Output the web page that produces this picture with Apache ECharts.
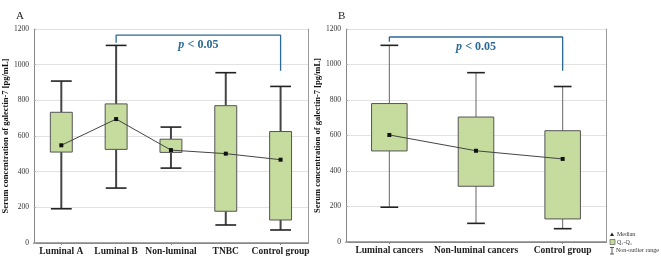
<!DOCTYPE html>
<html>
<head>
<meta charset="utf-8">
<script src="https://cdn.jsdelivr.net/npm/echarts@6/dist/echarts.min.js"></script>
<style>
  html, body { margin: 0; padding: 0; background: #fff; }
  #chart { width: 661px; height: 257px; }
</style>
</head>
<body>
<div id="chart"></div>
<script>
// panel A: subtypes
var catsA = ["Luminal A", "Luminal B", "Non-luminal", "TNBC", "Control group"];
var minA = [192, 308, 420, 101, 73];
var q1A = [510, 525, 508, 178, 129];
var medA = [548, 695, 521, 501, 467];
var q3A = [733, 780, 582, 770, 625];
var maxA = [908, 1108, 650, 955, 878];

// panel B: luminal vs non-luminal
var catsB = ["Luminal cancers", "Non-luminal cancers", "Control group"];
var minB = [196, 105, 75];
var q1B = [513, 314, 130];
var medB = [603, 514, 468];
var q3B = [780, 704, 627];
var maxB = [1108, 954, 876];

// significance brackets [category, value]
var bracketA = [["Luminal B", 1123], ["Luminal B", 1166], ["Control group", 1166], ["Control group", 966]];
var bracketB = [["Luminal cancers", 1128], ["Luminal cancers", 1155], ["Control group", 1155], ["Control group", 965]];

var yTicks = [0, 200, 400, 600, 800, 1000, 1200];

var serif = "Liberation Serif";
var boxFill = "#c6dc9e";
var blue = "#2b6a94";

function boxRows(mn, q1, md, q3, mx) {
  return mn.map(function (v, i) { return [i, v, q1[i], md[i], q3[i], mx[i]]; });
}

// 盒须图 custom 渲染
function makeRender(boxRatio, capRatio, whiskerW, whiskerColor) {
  return function (params, api) {
    var x = api.value(0);
    var pMin = api.coord([x, api.value(1)]);
    var pQ1 = api.coord([x, api.value(2)]);
    var pQ3 = api.coord([x, api.value(4)]);
    var pMax = api.coord([x, api.value(5)]);
    var band = api.size([1, 0])[0];
    var bw = band * boxRatio;
    var cw = bw * capRatio;
    var cx = pQ1[0];
    var ws = { stroke: whiskerColor, lineWidth: whiskerW };
    var cs = { stroke: "#222", lineWidth: 1.6 };
    return {
      type: "group",
      children: [
        { type: "line", shape: { x1: cx, y1: pMax[1], x2: cx, y2: pQ3[1] }, style: ws },
        { type: "line", shape: { x1: cx, y1: pQ1[1], x2: cx, y2: pMin[1] }, style: ws },
        { type: "line", shape: { x1: cx - cw / 2, y1: pMax[1], x2: cx + cw / 2, y2: pMax[1] }, style: cs },
        { type: "line", shape: { x1: cx - cw / 2, y1: pMin[1], x2: cx + cw / 2, y2: pMin[1] }, style: cs },
        {
          type: "rect",
          shape: { x: cx - bw / 2, y: pQ3[1], width: bw, height: pQ1[1] - pQ3[1] },
          style: { fill: boxFill, stroke: "#555", lineWidth: 1 }
        }
      ]
    };
  };
}

function xAxisCfg(cats, gi) {
  return {
    type: "category",
    data: cats,
    gridIndex: gi,
    axisLine: { show: true, lineStyle: { color: "#888", width: 1 } },
    axisTick: { show: false },
    axisLabel: { fontFamily: serif, fontWeight: "bold", fontSize: 9.5, color: "#222", margin: 4, interval: 0 },
    splitLine: { show: false }
  };
}

function xTopCfg(cats, gi) {
  return {
    type: "category",
    data: cats,
    gridIndex: gi,
    position: "top",
    axisLine: { show: true, lineStyle: { color: "#888", width: 1.5 } },
    axisTick: { show: true, inside: true, alignWithLabel: true, length: 2, lineStyle: { color: "#888" } },
    axisLabel: { show: false }
  };
}

function yAxisCfg(gi, gap) {
  return {
    type: "value",
    gridIndex: gi,
    min: 0,
    max: 1200,
    interval: 200,
    name: "Serum concentration of galectin-7 [pg/mL]",
    nameLocation: "middle",
    nameGap: gap,
    nameTextStyle: { fontFamily: serif, fontWeight: "bold", fontSize: 8.5, color: "#111" },
    axisLine: { show: true, lineStyle: { color: "#888", width: 1 } },
    axisTick: { show: true, inside: true, length: 2, lineStyle: { color: "#aaa" } },
    axisLabel: {
      fontFamily: serif, fontSize: 7.5, color: "#333", margin: 5,
      formatter: function (v) { return yTicks.indexOf(v) >= 0 ? String(v) : ""; }
    },
    splitLine: { show: true, lineStyle: { color: "#e2e2e2", width: 1 } }
  };
}

function yRightCfg(gi) {
  return {
    type: "value", gridIndex: gi, min: 0, max: 1200, interval: 200, position: "right",
    axisLine: { show: true, lineStyle: { color: "#999", width: 1 } },
    axisTick: { show: false }, axisLabel: { show: false }, splitLine: { show: false }
  };
}

function bracketSeries(data, xi, yi) {
  return {
    type: "line",
    xAxisIndex: xi,
    yAxisIndex: yi,
    data: data,
    symbol: "none",
    silent: true,
    z: 5,
    lineStyle: { color: blue, width: 1.3 }
  };
}

function medianSeries(data, xi, yi) {
  return {
    type: "line",
    xAxisIndex: xi,
    yAxisIndex: yi,
    data: data,
    symbol: "rect",
    symbolSize: 4,
    z: 6,
    lineStyle: { color: "#444", width: 1 },
    itemStyle: { color: "#111" }
  };
}

var chart = echarts.init(document.getElementById("chart"));

var legendText = { fontFamily: serif, fontSize: 6, fill: "#333" };

var option = {
  animation: false,
  grid: [
    { left: 31, right: 353, top: 29, bottom: 14 },
    { left: 346, right: 55, top: 29, bottom: 15 }
  ],
  xAxis: [xAxisCfg(catsA, 0), xAxisCfg(catsB, 1), xTopCfg(catsA, 0), xTopCfg(catsB, 1)],
  yAxis: [yAxisCfg(0, 23), yAxisCfg(1, 22), yRightCfg(0), yRightCfg(1)],
  series: [
    {
      type: "custom",
      xAxisIndex: 0, yAxisIndex: 0,
      renderItem: makeRender(0.4, 0.95, 2, "#444"),
      encode: { x: 0, y: [1, 2, 3, 4, 5] },
      data: boxRows(minA, q1A, medA, q3A, maxA)
    },
    {
      type: "custom",
      xAxisIndex: 1, yAxisIndex: 1,
      renderItem: makeRender(0.41, 0.5, 1, "#666"),
      encode: { x: 0, y: [1, 2, 3, 4, 5] },
      data: boxRows(minB, q1B, medB, q3B, maxB)
    },
    medianSeries(medA, 0, 0),
    medianSeries(medB, 1, 1),
    bracketSeries(bracketA, 0, 0),
    bracketSeries(bracketB, 1, 1)
  ],
  graphic: [
    { type: "text", left: 16, top: 11, style: { text: "A", font: "11px " + serif, fill: "#222" } },
    { type: "text", left: 338, top: 11, style: { text: "B", font: "11px " + serif, fill: "#222" } },
    // legend
    { type: "polygon", shape: { points: [[610, 236], [612, 232.5], [614, 236]] }, style: { fill: "#222" } },
    { type: "text", x: 617, y: 231, style: Object.assign({ text: "Median" }, legendText) },
    { type: "rect", shape: { x: 610, y: 239.5, width: 5, height: 5 }, style: { fill: boxFill, stroke: "#444", lineWidth: 0.6 } },
    { type: "text", x: 617, y: 239, style: Object.assign({ text: "Q\u2081-Q\u2083" }, legendText) },
    { type: "line", shape: { x1: 612, y1: 247.5, x2: 612, y2: 254 }, style: { stroke: "#333", lineWidth: 0.8 } },
    { type: "line", shape: { x1: 610, y1: 247.5, x2: 614, y2: 247.5 }, style: { stroke: "#333", lineWidth: 0.8 } },
    { type: "line", shape: { x1: 610, y1: 254, x2: 614, y2: 254 }, style: { stroke: "#333", lineWidth: 0.8 } },
    { type: "text", x: 616, y: 247, style: Object.assign({ text: "Non-outlier range" }, legendText) }
  ]
};

chart.setOption(option);

// p-value 标注, 放在括号横线中点下方
function pLabel(bracket, xi, yi, id) {
  var a = chart.convertToPixel({ xAxisIndex: xi, yAxisIndex: yi }, bracket[1]);
  var b = chart.convertToPixel({ xAxisIndex: xi, yAxisIndex: yi }, bracket[2]);
  return {
    id: id,
    type: "text",
    x: (a[0] + b[0]) / 2,
    y: a[1] + 4,
    style: {
      text: "{i|p} {n|< 0.05}",
      align: "center",
      verticalAlign: "top",
      rich: {
        i: { fontFamily: serif, fontStyle: "italic", fontWeight: "bold", fontSize: 12, fill: blue },
        n: { fontFamily: serif, fontWeight: "bold", fontSize: 12, fill: blue }
      }
    }
  };
}

chart.setOption({
  graphic: option.graphic.concat([pLabel(bracketA, 0, 0, "pA"), pLabel(bracketB, 1, 1, "pB")])
});
</script>
</body>
</html>
